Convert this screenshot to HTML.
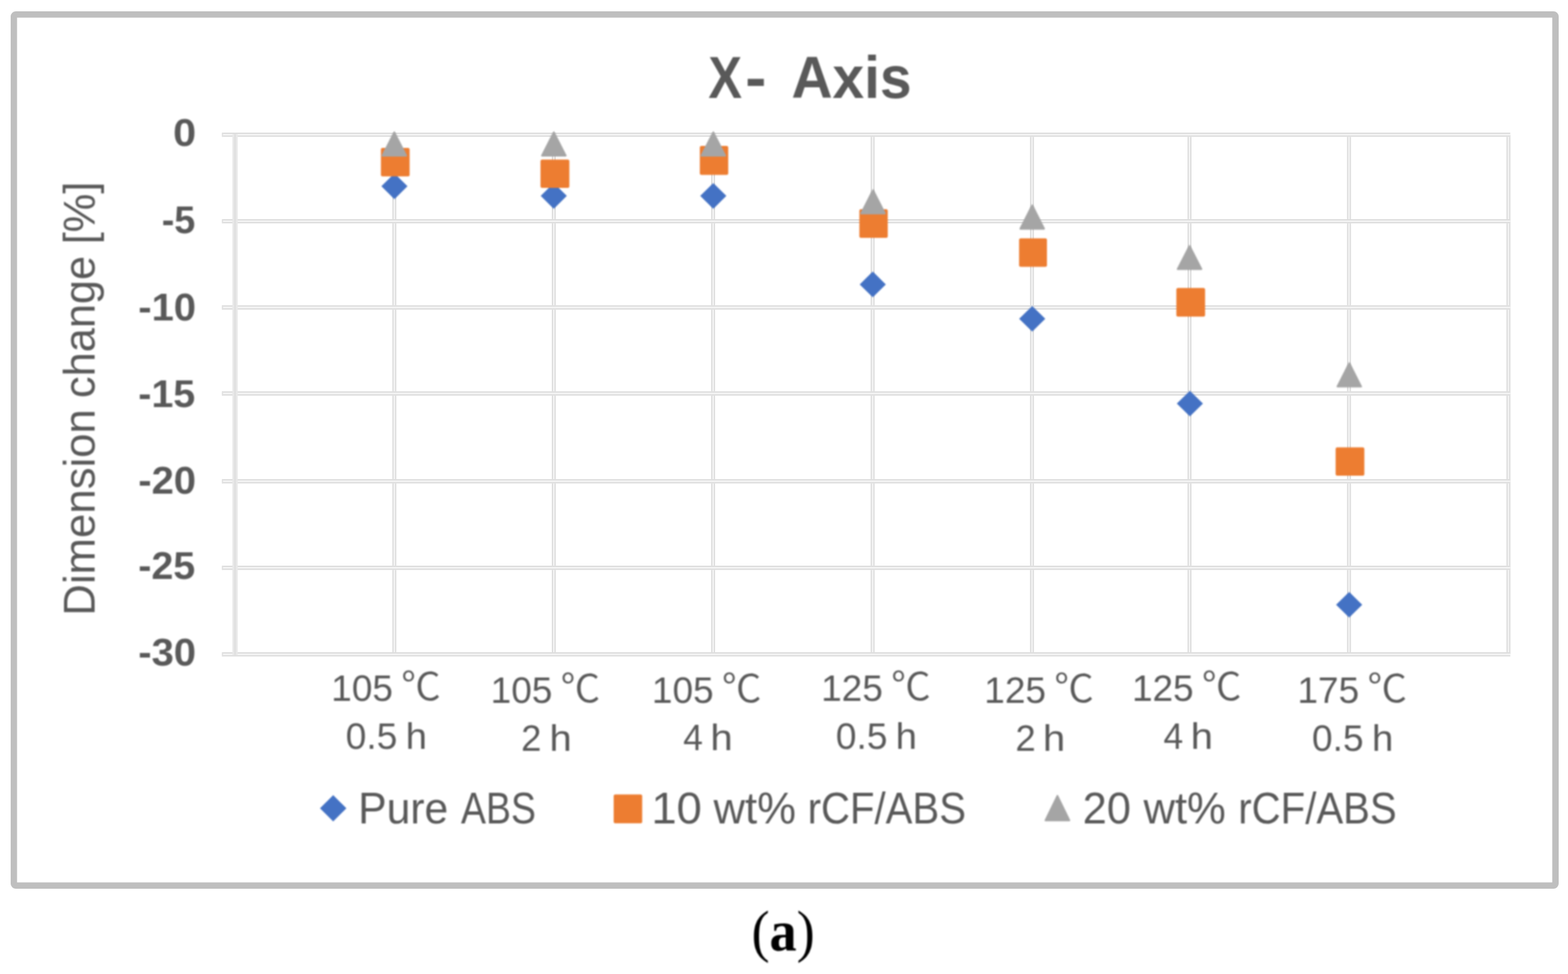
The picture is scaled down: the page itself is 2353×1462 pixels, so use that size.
<!DOCTYPE html>
<html><head><meta charset="utf-8"><title>X- Axis</title>
<style>html,body{margin:0;padding:0;background:#fff;width:2353px;height:1462px;overflow:hidden;} svg{display:block;}</style></head>
<body>
<svg width="2353" height="1462" viewBox="0 0 2353 1462">
<defs><filter id="bl" x="-2%" y="-2%" width="104%" height="104%" color-interpolation-filters="sRGB"><feGaussianBlur stdDeviation="1.0"/></filter></defs>
<rect x="0" y="0" width="2353" height="1462" fill="#ffffff"/>
<rect x="20.80" y="21.80" width="2313.40" height="1307.40" rx="3" ry="3" fill="none" stroke="#bfbfbf" stroke-width="9.6"/>
<rect x="588.70" y="202.2" width="6.0" height="780.00" fill="#f4f4f4"/>
<rect x="588.90" y="202.2" width="1.6" height="780.00" fill="#dadada"/>
<rect x="592.90" y="202.2" width="1.6" height="780.00" fill="#dadada"/>
<rect x="828.00" y="202.2" width="6.0" height="780.00" fill="#f4f4f4"/>
<rect x="828.20" y="202.2" width="1.6" height="780.00" fill="#dadada"/>
<rect x="832.20" y="202.2" width="1.6" height="780.00" fill="#dadada"/>
<rect x="1067.20" y="202.2" width="6.0" height="780.00" fill="#f4f4f4"/>
<rect x="1067.40" y="202.2" width="1.6" height="780.00" fill="#dadada"/>
<rect x="1071.40" y="202.2" width="1.6" height="780.00" fill="#dadada"/>
<rect x="1306.50" y="202.2" width="6.0" height="780.00" fill="#f4f4f4"/>
<rect x="1306.70" y="202.2" width="1.6" height="780.00" fill="#dadada"/>
<rect x="1310.70" y="202.2" width="1.6" height="780.00" fill="#dadada"/>
<rect x="1545.60" y="202.2" width="6.0" height="780.00" fill="#f4f4f4"/>
<rect x="1545.80" y="202.2" width="1.6" height="780.00" fill="#dadada"/>
<rect x="1549.80" y="202.2" width="1.6" height="780.00" fill="#dadada"/>
<rect x="1782.00" y="202.2" width="6.0" height="780.00" fill="#f4f4f4"/>
<rect x="1782.20" y="202.2" width="1.6" height="780.00" fill="#dadada"/>
<rect x="1786.20" y="202.2" width="1.6" height="780.00" fill="#dadada"/>
<rect x="2021.40" y="202.2" width="6.0" height="780.00" fill="#f4f4f4"/>
<rect x="2021.60" y="202.2" width="1.6" height="780.00" fill="#dadada"/>
<rect x="2025.60" y="202.2" width="1.6" height="780.00" fill="#dadada"/>
<rect x="2260.60" y="202.2" width="6.0" height="780.00" fill="#f4f4f4"/>
<rect x="2260.80" y="202.2" width="1.6" height="780.00" fill="#dadada"/>
<rect x="2264.80" y="202.2" width="1.6" height="780.00" fill="#dadada"/>
<rect x="333" y="199.00" width="1933.40" height="6.4" fill="#f4f4f4"/>
<rect x="333" y="199.20" width="1933.40" height="1.7" fill="#dadada"/>
<rect x="333" y="203.50" width="1933.40" height="1.7" fill="#dadada"/>
<rect x="332.8" y="199.20" width="2" height="6" fill="#e2e2e2"/>
<rect x="333" y="328.90" width="1933.40" height="6.4" fill="#f4f4f4"/>
<rect x="333" y="329.10" width="1933.40" height="1.7" fill="#dadada"/>
<rect x="333" y="333.40" width="1933.40" height="1.7" fill="#dadada"/>
<rect x="332.8" y="329.10" width="2" height="6" fill="#e2e2e2"/>
<rect x="333" y="458.30" width="1933.40" height="6.4" fill="#f4f4f4"/>
<rect x="333" y="458.50" width="1933.40" height="1.7" fill="#dadada"/>
<rect x="333" y="462.80" width="1933.40" height="1.7" fill="#dadada"/>
<rect x="332.8" y="458.50" width="2" height="6" fill="#e2e2e2"/>
<rect x="333" y="587.40" width="1933.40" height="6.4" fill="#f4f4f4"/>
<rect x="333" y="587.60" width="1933.40" height="1.7" fill="#dadada"/>
<rect x="333" y="591.90" width="1933.40" height="1.7" fill="#dadada"/>
<rect x="332.8" y="587.60" width="2" height="6" fill="#e2e2e2"/>
<rect x="333" y="719.20" width="1933.40" height="6.4" fill="#f4f4f4"/>
<rect x="333" y="719.40" width="1933.40" height="1.7" fill="#dadada"/>
<rect x="333" y="723.70" width="1933.40" height="1.7" fill="#dadada"/>
<rect x="332.8" y="719.40" width="2" height="6" fill="#e2e2e2"/>
<rect x="333" y="849.10" width="1933.40" height="6.4" fill="#f4f4f4"/>
<rect x="333" y="849.30" width="1933.40" height="1.7" fill="#dadada"/>
<rect x="333" y="853.60" width="1933.40" height="1.7" fill="#dadada"/>
<rect x="332.8" y="849.30" width="2" height="6" fill="#e2e2e2"/>
<rect x="333" y="979.00" width="1933.40" height="6.4" fill="#f4f4f4"/>
<rect x="333" y="979.20" width="1933.40" height="1.7" fill="#dadada"/>
<rect x="333" y="983.50" width="1933.40" height="1.7" fill="#dadada"/>
<rect x="332.8" y="979.20" width="2" height="6" fill="#e2e2e2"/>
<rect x="348.70" y="201.2" width="8" height="782.00" fill="#e9e9e9"/>
<rect x="351.20" y="201.2" width="3" height="782.00" fill="#e0e0e0"/>
<g filter="url(#bl)">
<path d="M591.90 260.30 L611.50 279.60 L591.90 298.90 L572.30 279.60 Z" fill="#4472c4"/>
<path d="M831.00 274.80 L850.60 294.10 L831.00 313.40 L811.40 294.10 Z" fill="#4472c4"/>
<path d="M1070.40 274.80 L1090.00 294.10 L1070.40 313.40 L1050.80 294.10 Z" fill="#4472c4"/>
<path d="M1309.70 407.60 L1329.30 426.90 L1309.70 446.20 L1290.10 426.90 Z" fill="#4472c4"/>
<path d="M1549.00 459.20 L1568.60 478.50 L1549.00 497.80 L1529.40 478.50 Z" fill="#4472c4"/>
<path d="M1785.60 586.40 L1805.20 605.70 L1785.60 625.00 L1766.00 605.70 Z" fill="#4472c4"/>
<path d="M2024.60 888.40 L2044.20 907.70 L2024.60 927.00 L2005.00 907.70 Z" fill="#4472c4"/>
<rect x="571.60" y="222.10" width="43.10" height="42.70" rx="2.5" ry="2.5" fill="#ed7d31"/>
<rect x="811.10" y="239.60" width="43.30" height="42.30" rx="2.5" ry="2.5" fill="#ed7d31"/>
<rect x="1050.20" y="219.00" width="42.60" height="43.40" rx="2.5" ry="2.5" fill="#ed7d31"/>
<rect x="1289.60" y="314.00" width="42.60" height="43.00" rx="2.5" ry="2.5" fill="#ed7d31"/>
<rect x="1529.30" y="357.80" width="41.80" height="42.70" rx="2.5" ry="2.5" fill="#ed7d31"/>
<rect x="1765.30" y="432.30" width="43.10" height="43.00" rx="2.5" ry="2.5" fill="#ed7d31"/>
<rect x="2004.30" y="671.50" width="43.10" height="42.40" rx="2.5" ry="2.5" fill="#ed7d31"/>
<path d="M591.70 198.50 L609.52 233.70 L573.88 233.70 Z" fill="#a5a5a5" stroke="#a5a5a5" stroke-width="2.6" stroke-linejoin="round"/>
<path d="M831.10 198.50 L848.92 233.60 L813.28 233.60 Z" fill="#a5a5a5" stroke="#a5a5a5" stroke-width="2.6" stroke-linejoin="round"/>
<path d="M1070.40 198.50 L1088.22 233.70 L1052.58 233.70 Z" fill="#a5a5a5" stroke="#a5a5a5" stroke-width="2.6" stroke-linejoin="round"/>
<path d="M1310.10 285.30 L1327.92 320.40 L1292.28 320.40 Z" fill="#a5a5a5" stroke="#a5a5a5" stroke-width="2.6" stroke-linejoin="round"/>
<path d="M1549.00 308.20 L1566.82 343.40 L1531.18 343.40 Z" fill="#a5a5a5" stroke="#a5a5a5" stroke-width="2.6" stroke-linejoin="round"/>
<path d="M1785.10 369.00 L1802.92 403.90 L1767.28 403.90 Z" fill="#a5a5a5" stroke="#a5a5a5" stroke-width="2.6" stroke-linejoin="round"/>
<path d="M2024.80 545.00 L2042.62 580.30 L2006.98 580.30 Z" fill="#a5a5a5" stroke="#a5a5a5" stroke-width="2.6" stroke-linejoin="round"/>
<path d="M500.00 1193.40 L519.80 1213.20 L500.00 1233.00 L480.20 1213.20 Z" fill="#4472c4"/>
<rect x="920.90" y="1192.60" width="42.80" height="43.10" rx="2.5" ry="2.5" fill="#ed7d31"/>
<path d="M1586.80 1194.50 L1604.72 1231.40 L1568.88 1231.40 Z" fill="#a5a5a5" stroke="#a5a5a5" stroke-width="2.6" stroke-linejoin="round"/>
<text transform="translate(1063.04,147.20) scale(0.8516,1)" font-family="'Liberation Sans', 'Noto Sans CJK JP', sans-serif" font-weight="bold" font-size="88.80" fill="#595959">X</text>
<text transform="translate(1118.18,147.20) scale(1.0766,1)" font-family="'Liberation Sans', 'Noto Sans CJK JP', sans-serif" font-weight="bold" font-size="88.80" fill="#595959">-</text>
<text transform="translate(1187.64,147.20) scale(0.9611,1)" font-family="'Liberation Sans', 'Noto Sans CJK JP', sans-serif" font-weight="bold" font-size="88.80" fill="#595959">Axis</text>
<text transform="translate(259.81,218.50) scale(1.0805,1)" font-family="'Liberation Sans', 'Noto Sans CJK JP', sans-serif" font-weight="bold" font-size="57.50" fill="#595959">0</text>
<text transform="translate(242.73,350.30) scale(0.9862,1)" font-family="'Liberation Sans', 'Noto Sans CJK JP', sans-serif" font-weight="bold" font-size="57.50" fill="#595959">-5</text>
<text transform="translate(207.40,480.90) scale(1.0448,1)" font-family="'Liberation Sans', 'Noto Sans CJK JP', sans-serif" font-weight="bold" font-size="57.50" fill="#595959">-10</text>
<text transform="translate(207.43,610.90) scale(1.0296,1)" font-family="'Liberation Sans', 'Noto Sans CJK JP', sans-serif" font-weight="bold" font-size="57.50" fill="#595959">-15</text>
<text transform="translate(207.40,740.90) scale(1.0448,1)" font-family="'Liberation Sans', 'Noto Sans CJK JP', sans-serif" font-weight="bold" font-size="57.50" fill="#595959">-20</text>
<text transform="translate(207.43,869.40) scale(1.0296,1)" font-family="'Liberation Sans', 'Noto Sans CJK JP', sans-serif" font-weight="bold" font-size="57.50" fill="#595959">-25</text>
<text transform="translate(207.40,998.60) scale(1.0448,1)" font-family="'Liberation Sans', 'Noto Sans CJK JP', sans-serif" font-weight="bold" font-size="57.50" fill="#595959">-30</text>
<text transform="translate(497.06,1051.70) scale(0.9997,1)" font-family="'Liberation Sans', 'Noto Sans CJK JP', sans-serif" font-size="55.50" fill="#595959">105</text>
<text transform="translate(602.02,1051.10) scale(1.0357,1)" font-family="'Noto Sans CJK JP', sans-serif" font-weight="350" font-size="57.50" fill="#595959">℃</text>
<text transform="translate(518.87,1123.70) scale(1.0041,1)" font-family="'Liberation Sans', 'Noto Sans CJK JP', sans-serif" font-size="55.50" fill="#595959">0.5</text>
<text transform="translate(608.77,1123.70) scale(1.0382,1)" font-family="'Liberation Sans', 'Noto Sans CJK JP', sans-serif" font-size="55.50" fill="#595959">h</text>
<text transform="translate(736.36,1054.50) scale(0.9997,1)" font-family="'Liberation Sans', 'Noto Sans CJK JP', sans-serif" font-size="55.50" fill="#595959">105</text>
<text transform="translate(841.32,1053.90) scale(1.0357,1)" font-family="'Noto Sans CJK JP', sans-serif" font-weight="350" font-size="57.50" fill="#595959">℃</text>
<text transform="translate(782.06,1126.50) scale(0.9871,1)" font-family="'Liberation Sans', 'Noto Sans CJK JP', sans-serif" font-size="55.50" fill="#595959">2</text>
<text transform="translate(824.48,1126.50) scale(1.0854,1)" font-family="'Liberation Sans', 'Noto Sans CJK JP', sans-serif" font-size="55.50" fill="#595959">h</text>
<text transform="translate(978.36,1054.50) scale(0.9997,1)" font-family="'Liberation Sans', 'Noto Sans CJK JP', sans-serif" font-size="55.50" fill="#595959">105</text>
<text transform="translate(1083.32,1053.90) scale(1.0357,1)" font-family="'Noto Sans CJK JP', sans-serif" font-weight="350" font-size="57.50" fill="#595959">℃</text>
<text transform="translate(1025.34,1126.10) scale(0.9574,1)" font-family="'Liberation Sans', 'Noto Sans CJK JP', sans-serif" font-size="55.50" fill="#595959">4</text>
<text transform="translate(1066.08,1126.10) scale(1.0854,1)" font-family="'Liberation Sans', 'Noto Sans CJK JP', sans-serif" font-size="55.50" fill="#595959">h</text>
<text transform="translate(1232.26,1051.70) scale(0.9997,1)" font-family="'Liberation Sans', 'Noto Sans CJK JP', sans-serif" font-size="55.50" fill="#595959">125</text>
<text transform="translate(1337.22,1051.10) scale(1.0357,1)" font-family="'Noto Sans CJK JP', sans-serif" font-weight="350" font-size="57.50" fill="#595959">℃</text>
<text transform="translate(1254.17,1123.70) scale(1.0041,1)" font-family="'Liberation Sans', 'Noto Sans CJK JP', sans-serif" font-size="55.50" fill="#595959">0.5</text>
<text transform="translate(1344.07,1123.70) scale(1.0382,1)" font-family="'Liberation Sans', 'Noto Sans CJK JP', sans-serif" font-size="55.50" fill="#595959">h</text>
<text transform="translate(1477.06,1054.50) scale(0.9997,1)" font-family="'Liberation Sans', 'Noto Sans CJK JP', sans-serif" font-size="55.50" fill="#595959">125</text>
<text transform="translate(1582.02,1053.90) scale(1.0357,1)" font-family="'Noto Sans CJK JP', sans-serif" font-weight="350" font-size="57.50" fill="#595959">℃</text>
<text transform="translate(1523.66,1126.50) scale(0.9871,1)" font-family="'Liberation Sans', 'Noto Sans CJK JP', sans-serif" font-size="55.50" fill="#595959">2</text>
<text transform="translate(1565.08,1126.50) scale(1.0854,1)" font-family="'Liberation Sans', 'Noto Sans CJK JP', sans-serif" font-size="55.50" fill="#595959">h</text>
<text transform="translate(1698.66,1051.70) scale(0.9997,1)" font-family="'Liberation Sans', 'Noto Sans CJK JP', sans-serif" font-size="55.50" fill="#595959">125</text>
<text transform="translate(1803.62,1051.10) scale(1.0357,1)" font-family="'Noto Sans CJK JP', sans-serif" font-weight="350" font-size="57.50" fill="#595959">℃</text>
<text transform="translate(1745.94,1123.70) scale(0.9574,1)" font-family="'Liberation Sans', 'Noto Sans CJK JP', sans-serif" font-size="55.50" fill="#595959">4</text>
<text transform="translate(1786.68,1123.70) scale(1.0854,1)" font-family="'Liberation Sans', 'Noto Sans CJK JP', sans-serif" font-size="55.50" fill="#595959">h</text>
<text transform="translate(1946.96,1054.50) scale(0.9997,1)" font-family="'Liberation Sans', 'Noto Sans CJK JP', sans-serif" font-size="55.50" fill="#595959">175</text>
<text transform="translate(2051.92,1053.90) scale(1.0357,1)" font-family="'Noto Sans CJK JP', sans-serif" font-weight="350" font-size="57.50" fill="#595959">℃</text>
<text transform="translate(1968.77,1126.50) scale(1.0041,1)" font-family="'Liberation Sans', 'Noto Sans CJK JP', sans-serif" font-size="55.50" fill="#595959">0.5</text>
<text transform="translate(2058.65,1126.50) scale(1.0425,1)" font-family="'Liberation Sans', 'Noto Sans CJK JP', sans-serif" font-size="55.50" fill="#595959">h</text>
<text transform="translate(537.48,1235.70) scale(0.9627,1)" font-family="'Liberation Sans', 'Noto Sans CJK JP', sans-serif" font-size="66.50" fill="#595959">Pure</text>
<text transform="translate(691.80,1235.70) scale(0.8455,1)" font-family="'Liberation Sans', 'Noto Sans CJK JP', sans-serif" font-size="66.50" fill="#595959">ABS</text>
<text transform="translate(977.45,1235.70) scale(1.0253,1)" font-family="'Liberation Sans', 'Noto Sans CJK JP', sans-serif" font-size="66.50" fill="#595959">10</text>
<text transform="translate(1070.80,1235.70) scale(0.9844,1)" font-family="'Liberation Sans', 'Noto Sans CJK JP', sans-serif" font-size="66.50" fill="#595959">wt%</text>
<text transform="translate(1211.98,1235.70) scale(0.9058,1)" font-family="'Liberation Sans', 'Noto Sans CJK JP', sans-serif" font-size="66.50" fill="#595959">rCF/ABS</text>
<text transform="translate(1624.75,1235.70) scale(0.9774,1)" font-family="'Liberation Sans', 'Noto Sans CJK JP', sans-serif" font-size="66.50" fill="#595959">20</text>
<text transform="translate(1715.90,1235.70) scale(0.9844,1)" font-family="'Liberation Sans', 'Noto Sans CJK JP', sans-serif" font-size="66.50" fill="#595959">wt%</text>
<text transform="translate(1858.28,1235.70) scale(0.9062,1)" font-family="'Liberation Sans', 'Noto Sans CJK JP', sans-serif" font-size="66.50" fill="#595959">rCF/ABS</text>
<text transform="translate(142.20,924.15) rotate(-90) scale(0.9929,1)" font-family="'Liberation Sans', 'Noto Sans CJK JP', sans-serif" font-size="66.10" fill="#595959">Dimension</text>
<text transform="translate(142.20,597.50) rotate(-90) scale(0.9843,1)" font-family="'Liberation Sans', 'Noto Sans CJK JP', sans-serif" font-size="66.10" fill="#595959">change</text>
<text transform="translate(142.20,366.87) rotate(-90) scale(0.9880,1)" font-family="'Liberation Sans', 'Noto Sans CJK JP', sans-serif" font-size="66.10" fill="#595959">[%]</text>
<text transform="translate(1127.64,1426.68) scale(0.9452,1)" font-family="'Liberation Serif', serif" font-size="86.3" fill="#000000">(<tspan font-weight="bold">a</tspan>)</text>
</g>
</svg>
</body></html>
